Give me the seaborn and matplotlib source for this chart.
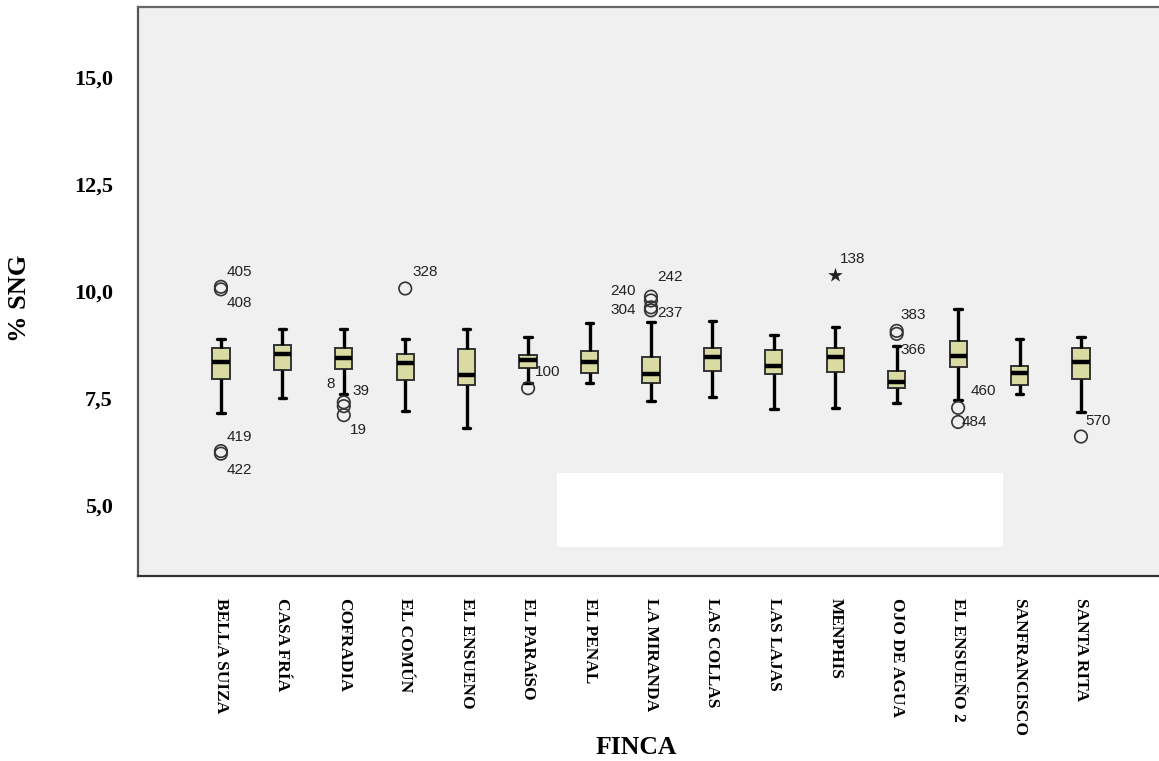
import numpy as np
import pandas as pd
import matplotlib
matplotlib.use("Agg")
import matplotlib.pyplot as plt
import seaborn as sns

# ---------------- data ----------------
fincas = ["BELLA SUIZA", "CASA FRÍA", "COFRADIA", "EL COMÚN", "EL ENSUENO",
          "EL PARAíSO", "EL PENAL", "LA MIRANDA", "LAS COLLAS", "LAS LAJAS",
          "MENPHIS", "OJO DE AGUA", "EL ENSUEÑO 2", "SANFRANCISCO", "SANTA RITA"]
whisker_low = [7.16, 7.51, 7.59, 7.20, 6.79, 7.84, 7.86, 7.43, 7.52, 7.24, 7.27, 7.39, 7.45, 7.59, 7.18]
q1          = [7.94, 8.15, 8.17, 7.92, 7.80, 8.21, 8.09, 7.84, 8.14, 8.06, 8.11, 7.73, 8.23, 7.80, 7.94]
median      = [8.35, 8.54, 8.43, 8.31, 8.04, 8.40, 8.35, 8.05, 8.45, 8.25, 8.45, 7.88, 8.48, 8.09, 8.35]
q3          = [8.66, 8.74, 8.66, 8.53, 8.64, 8.50, 8.60, 8.46, 8.66, 8.62, 8.66, 8.14, 8.84, 8.25, 8.66]
whisker_high= [8.89, 9.11, 9.11, 8.89, 9.11, 8.93, 9.26, 9.28, 9.31, 8.97, 9.17, 8.71, 9.57, 8.87, 8.93]

outlier_finca = ["BELLA SUIZA", "BELLA SUIZA", "BELLA SUIZA", "BELLA SUIZA",
                 "COFRADIA", "COFRADIA", "COFRADIA", "EL COMÚN", "EL PARAíSO",
                 "LA MIRANDA", "LA MIRANDA", "LA MIRANDA", "LA MIRANDA",
                 "OJO DE AGUA", "OJO DE AGUA", "EL ENSUEÑO 2", "EL ENSUEÑO 2", "SANTA RITA"]
outlier_value = [10.10, 10.04, 6.26, 6.20,
                 7.40, 7.31, 7.10, 10.06, 7.73,
                 9.87, 9.78, 9.62, 9.55,
                 9.07, 9.00, 7.27, 6.94, 6.60]
outlier_id = ["405", "408", "419", "422", "8", "39", "19", "328", "100",
              "242", "240", "304", "237", "383", "366", "460", "484", "570"]
# label offsets (pixels) relative to the point
label_dx = [6, 6, 6, 6, -17, 9, 6, 7, 7, 6, -41, -41, 6, 4, 4, 13, 4, 4]
label_dy = [15, -14, 14, -16, 18, 15, -15, 17, 16, 20, 9, -3, -3, 16, -16, 17, 0, 16]

extreme_finca = ["MENPHIS"]
extreme_value = [10.37]
extreme_id = ["138"]

yticks = [5.0, 7.5, 10.0, 12.5, 15.0]
ytick_labels = ["5,0", "7,5", "10,0", "12,5", "15,0"]

# five-number summaries as a long table (quartiles of 5 values reproduce them exactly)
rows = []
for f, a, b, c, d, e in zip(fincas, whisker_low, q1, median, q3, whisker_high):
    for v in (a, b, c, d, e):
        rows.append({"FINCA": f, "SNG": v})
df = pd.DataFrame(rows)
df_out = pd.DataFrame({"FINCA": outlier_finca, "SNG": outlier_value})
df_ext = pd.DataFrame({"FINCA": extreme_finca, "SNG": extreme_value})

# ---------------- figure ----------------
sns.set_theme(style="white")
plt.rcParams["font.family"] = ["Liberation Serif", "DejaVu Serif"]
plt.rcParams["text.color"] = "black"
plt.rcParams["axes.labelcolor"] = "black"
plt.rcParams["xtick.color"] = "black"
plt.rcParams["ytick.color"] = "black"

W, H = 1159, 761
fig = plt.figure(figsize=(W / 100, H / 100), dpi=100)
fig.patch.set_facecolor("white")
ax = fig.add_axes([138 / W, 1 - 576 / H, 1 - 138 / W, (576 - 7) / H])
ax.set_facecolor("#f0f0f0")

sns.boxplot(data=df, x="FINCA", y="SNG", order=fincas, ax=ax,
            whis=(0, 100), width=0.28, color="#d9dba2", linecolor="black",
            linewidth=2.2, fliersize=0, saturation=1,
            boxprops=dict(edgecolor="#333333", linewidth=1.4),
            medianprops=dict(color="black", linewidth=3.2),
            whiskerprops=dict(color="black", linewidth=2.4),
            capprops=dict(color="black", linewidth=2.4))

# caps narrower, as in the reference
for line in ax.lines:
    xd = np.asarray(line.get_xdata(), dtype=float)
    yd = np.asarray(line.get_ydata(), dtype=float)
    if len(xd) == 2 and yd[0] == yd[1] and abs(xd[1] - xd[0]) < 0.2 and line.get_linewidth() == 2.4:
        cx = xd.mean()
        line.set_xdata([cx - 0.06, cx + 0.06])

sns.stripplot(data=df_out, x="FINCA", y="SNG", order=fincas, ax=ax, jitter=False,
              marker="o", s=9, facecolor="none", edgecolor="#333333", linewidth=1.2,
              color="#333333")
sns.stripplot(data=df_ext, x="FINCA", y="SNG", order=fincas, ax=ax, jitter=False,
              marker="*", s=11, color="#222222", linewidth=0)

for f, v, t, dx, dy in zip(outlier_finca, outlier_value, outlier_id, label_dx, label_dy):
    ax.annotate(t, (fincas.index(f), v), xytext=(dx, dy), textcoords="offset pixels",
                ha="left", va="center", fontsize=11, color="#222222",
                family=["Liberation Sans", "DejaVu Sans"])
for f, v, t in zip(extreme_finca, extreme_value, extreme_id):
    ax.annotate(t, (fincas.index(f), v), xytext=(5, 16), textcoords="offset pixels",
                ha="left", va="center", fontsize=11, color="#222222",
                family=["Liberation Sans", "DejaVu Sans"])

ax.set_xlim(-1.35, 15.27)
ax.set_ylim(3.34, 16.64)
ax.set_yticks(yticks)
ax.set_yticklabels(ytick_labels, fontsize=16, fontweight="bold")
ax.set_xticks(range(len(fincas)))
ax.set_xticklabels(fincas, rotation=270, fontsize=12.5, fontweight="bold",
                   ha="center", va="top")
ax.tick_params(axis="y", direction="out", length=4, width=1, color="#888888", pad=14)
ax.tick_params(axis="x", direction="inout", length=7, width=1.2, color="#555555", pad=12)

ax.set_xlabel("FINCA", fontsize=18.5, fontweight="bold", va="center")
ax.xaxis.set_label_coords((636 - 138) / (W - 138), -(747 - 576) / 569)
ax.set_ylabel("% SNG", fontsize=19, fontweight="bold", va="center", ha="center")
ax.yaxis.set_label_coords((20 - 138) / (W - 138), 1 - (298 - 7) / 569)

for side in ["left", "top", "bottom"]:
    ax.spines[side].set_visible(True)
    ax.spines[side].set_linewidth(1.6)
ax.spines["left"].set_color("#555555")
ax.spines["top"].set_color("#666666")
ax.spines["bottom"].set_color("#333333")
ax.spines["right"].set_visible(False)

# white occluding panel present in the reference image
fig.patches.append(plt.Rectangle((557 / W, 1 - 547 / H), (1003 - 557) / W, (547 - 473) / H,
                                 transform=fig.transFigure, facecolor="white",
                                 edgecolor="none", zorder=10))

fig.savefig("out.png", dpi=100)
